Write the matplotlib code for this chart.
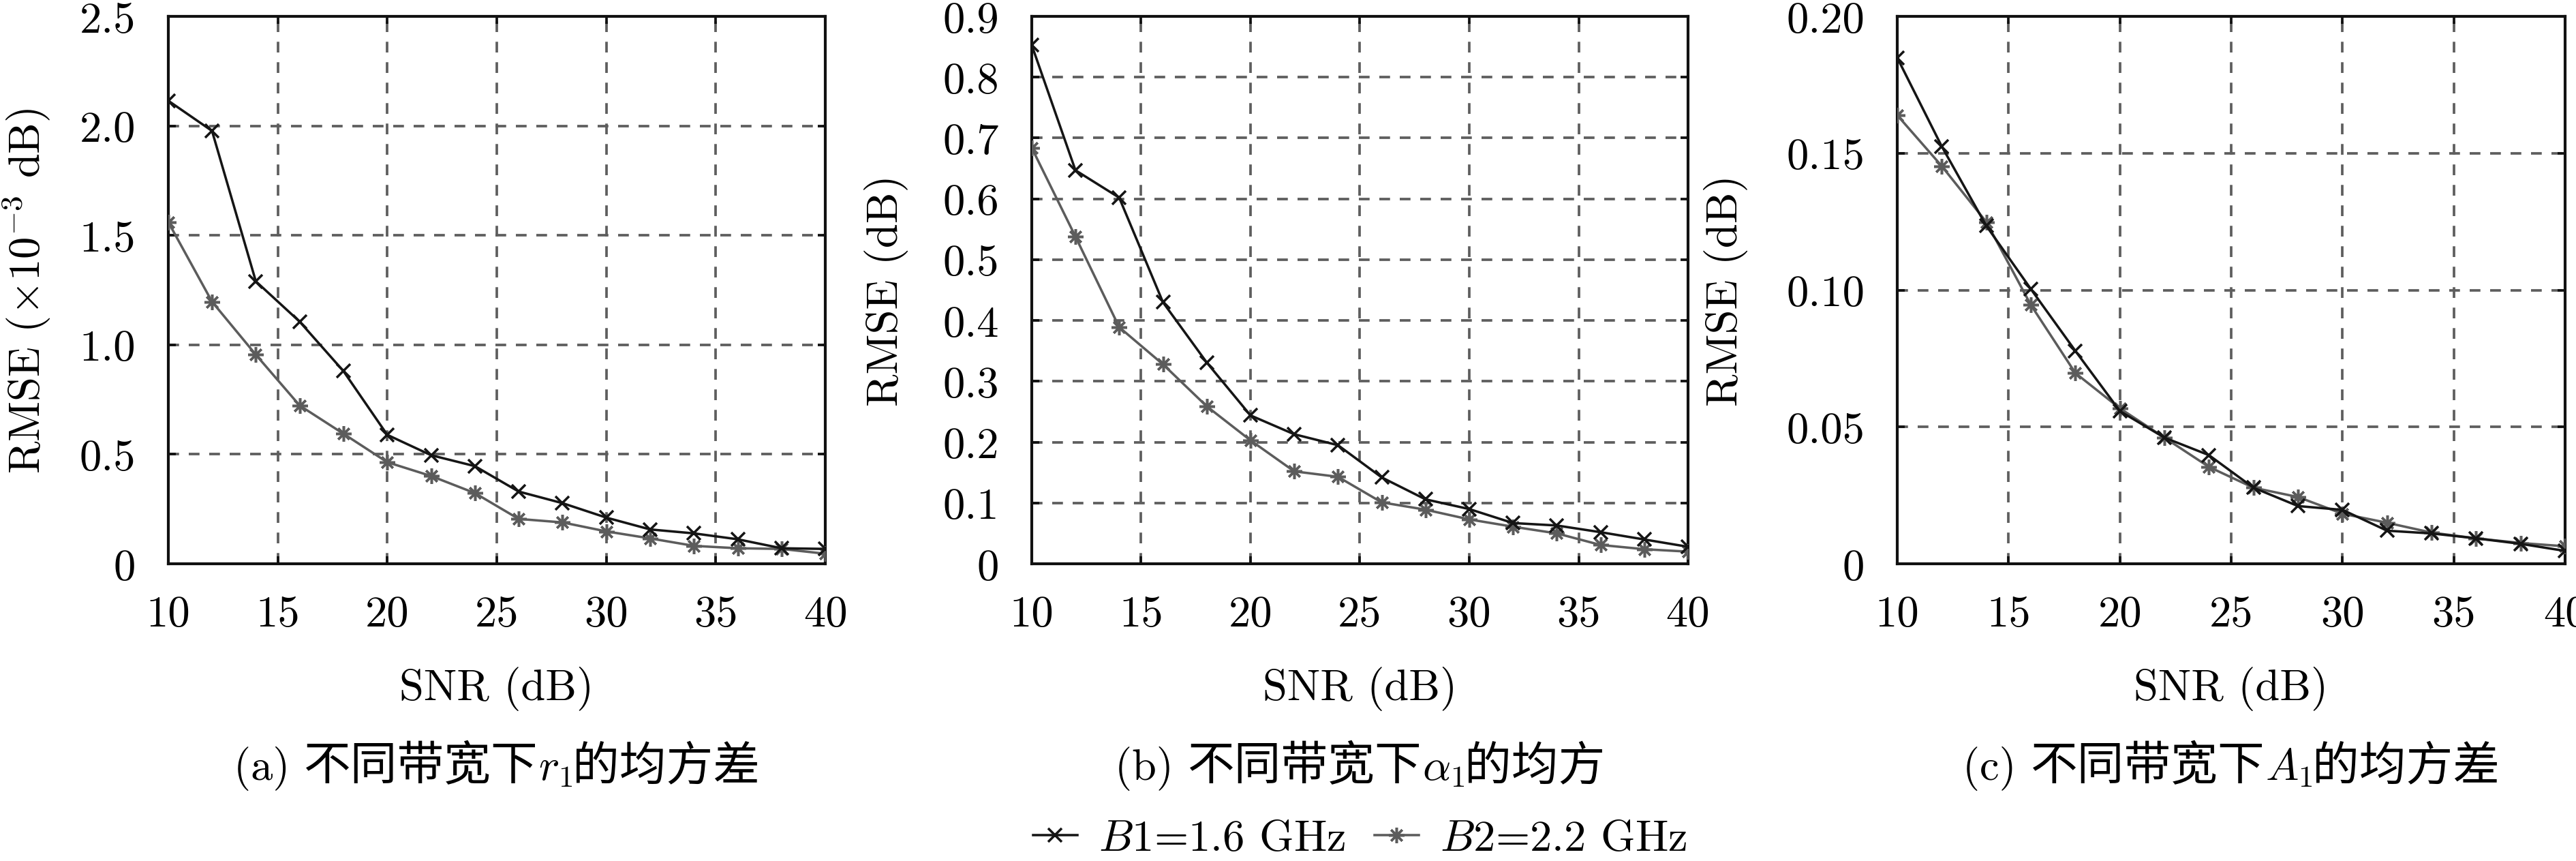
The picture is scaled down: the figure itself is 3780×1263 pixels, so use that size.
import matplotlib
matplotlib.use('Agg')
import matplotlib.pyplot as plt
from matplotlib.offsetbox import TextArea, HPacker, AnnotationBbox

plt.rcParams['font.family'] = ['cmr10', 'Noto Sans CJK SC']
plt.rcParams['mathtext.fontset'] = 'cm'
plt.rcParams['axes.unicode_minus'] = False
plt.rcParams['axes.formatter.use_mathtext'] = True

# ---------------- data ----------------
snr = [10, 12, 14, 16, 18, 20, 22, 24, 26, 28, 30, 32, 34, 36, 38, 40]

a_b1 = [2.115, 1.977, 1.290, 1.106, 0.880, 0.589, 0.496, 0.446, 0.330, 0.277,
        0.211, 0.157, 0.139, 0.112, 0.071, 0.068]
a_b2 = [1.561, 1.197, 0.955, 0.723, 0.594, 0.464, 0.401, 0.323, 0.205, 0.189,
        0.148, 0.116, 0.082, 0.071, 0.068, 0.046]

b_b1 = [0.853, 0.647, 0.602, 0.430, 0.331, 0.244, 0.213, 0.195, 0.142, 0.106,
        0.090, 0.067, 0.063, 0.052, 0.040, 0.028]
b_b2 = [0.684, 0.538, 0.389, 0.328, 0.259, 0.203, 0.152, 0.143, 0.101, 0.089,
        0.073, 0.061, 0.050, 0.031, 0.024, 0.020]

c_b1 = [0.1849, 0.1525, 0.1235, 0.1004, 0.0778, 0.0558, 0.0461, 0.0397, 0.0278,
        0.0211, 0.0197, 0.0121, 0.0111, 0.0093, 0.0073, 0.0047]
c_b2 = [0.1639, 0.1453, 0.1249, 0.0946, 0.0697, 0.0568, 0.0461, 0.0354, 0.0278,
        0.0244, 0.0183, 0.0150, 0.0114, 0.0093, 0.0076, 0.0064]

x_ticks = [10, 15, 20, 25, 30, 35, 40]
a_yticks = [0, 0.5, 1.0, 1.5, 2.0, 2.5]
a_ylabels = ['0', '0.5', '1.0', '1.5', '2.0', '2.5']
b_yticks = [0, 0.1, 0.2, 0.3, 0.4, 0.5, 0.6, 0.7, 0.8, 0.9]
b_ylabels = ['0', '0.1', '0.2', '0.3', '0.4', '0.5', '0.6', '0.7', '0.8', '0.9']
c_yticks = [0, 0.05, 0.10, 0.15, 0.20]
c_ylabels = ['0', '0.05', '0.10', '0.15', '0.20']

ylabels = [r'RMSE ($\times10^{-3}$ dB)', 'RMSE (dB)', 'RMSE (dB)']
xlabel = 'SNR (dB)'
cap_letters = ['(a)', '(b)', '(c)']
cap_pre = '不同带宽下'
cap_sym = [r'$r_1$', r'$\alpha_1$', r'$A_1$']
cap_post = ['的均方差', '的均方', '的均方差']
series_labels = [r'$B$1=1.6 GHz', r'$B$2=2.2 GHz']

# ---------------- style ----------------
FS = 15.5
FS_CJK = 16.5
C1 = '#151515'
C2 = '#5c5c5c'

fig = plt.figure(figsize=(12.6, 1264 / 300), dpi=300)
fig.patch.set_facecolor('white')

positions = [
    [0.0653, 0.3449, 0.2551, 0.6353],
    [0.4005, 0.3449, 0.2548, 0.6353],
    [0.7365, 0.3449, 0.2593, 0.6353],
]
datasets = [(a_b1, a_b2, a_yticks, a_ylabels),
            (b_b1, b_b2, b_yticks, b_ylabels),
            (c_b1, c_b2, c_yticks, c_ylabels)]
ylab_x = [-0.176, -0.188, -0.2235]

handles = None
axes = []
for i, (pos, (d1, d2, yt, yl)) in enumerate(zip(positions, datasets)):
    ax = fig.add_axes(pos)
    axes.append(ax)
    l1, = ax.plot(snr, d1, color=C1, lw=0.85, marker='x', ms=5.0, mew=0.85,
                  label=series_labels[0], zorder=4)
    l2, = ax.plot(snr, d2, color=C2, lw=0.85, marker=(8, 2, 0), ms=5.5, mew=0.85,
                  label=series_labels[1], zorder=3)
    handles = [l1, l2]
    ax.set_xlim(10, 40)
    ax.set_ylim(yt[0], yt[-1])
    ax.set_xticks(x_ticks)
    ax.set_xticklabels([str(v) for v in x_ticks])
    ax.set_yticks(yt)
    ax.set_yticklabels(yl)
    ax.grid(True, color='#5e5e5e', linestyle=(0, (4.2, 3.8)), linewidth=0.9)
    ax.set_axisbelow(True)
    ax.tick_params(direction='in', length=2.6, width=0.9, top=True, right=True,
                   labelsize=FS, color='#111111')
    ax.tick_params(axis='y', pad=11.5)
    ax.tick_params(axis='x', pad=11)
    for s in ax.spines.values():
        s.set_linewidth(1.0)
        s.set_color('#111111')
    ax.set_ylabel(ylabels[i], fontsize=FS)
    ax.yaxis.set_label_coords(ylab_x[i], 0.5)
    ax.set_xlabel(xlabel, fontsize=FS, va='top')
    ax.xaxis.set_label_coords(0.5, -0.1866)

    # caption
    parts = [
        TextArea(cap_letters[i] + ' ', textprops=dict(fontsize=FS, family='cmr10')),
        TextArea(cap_pre, textprops=dict(fontsize=FS_CJK, family='Noto Sans CJK SC')),
        TextArea(cap_sym[i], textprops=dict(fontsize=FS)),
        TextArea(cap_post[i], textprops=dict(fontsize=FS_CJK, family='Noto Sans CJK SC')),
    ]
    box = HPacker(children=parts, align='baseline', pad=0, sep=0)
    cx = pos[0] + pos[2] / 2
    ab = AnnotationBbox(box, (cx, 1 - 1125 / 1264), xycoords='figure fraction',
                        box_alignment=(0.5, 0.5), frameon=False, pad=0)
    fig.add_artist(ab)

leg = fig.legend(handles=handles, labels=series_labels, loc='center',
                 bbox_to_anchor=(positions[1][0] + positions[1][2] / 2, 1 - 1232 / 1264),
                 ncol=2, frameon=False, fontsize=FS, handlelength=1.0,
                 handletextpad=0.48, columnspacing=0.67, borderaxespad=0,
                 borderpad=0)

fig.savefig('out.png', dpi=300)
